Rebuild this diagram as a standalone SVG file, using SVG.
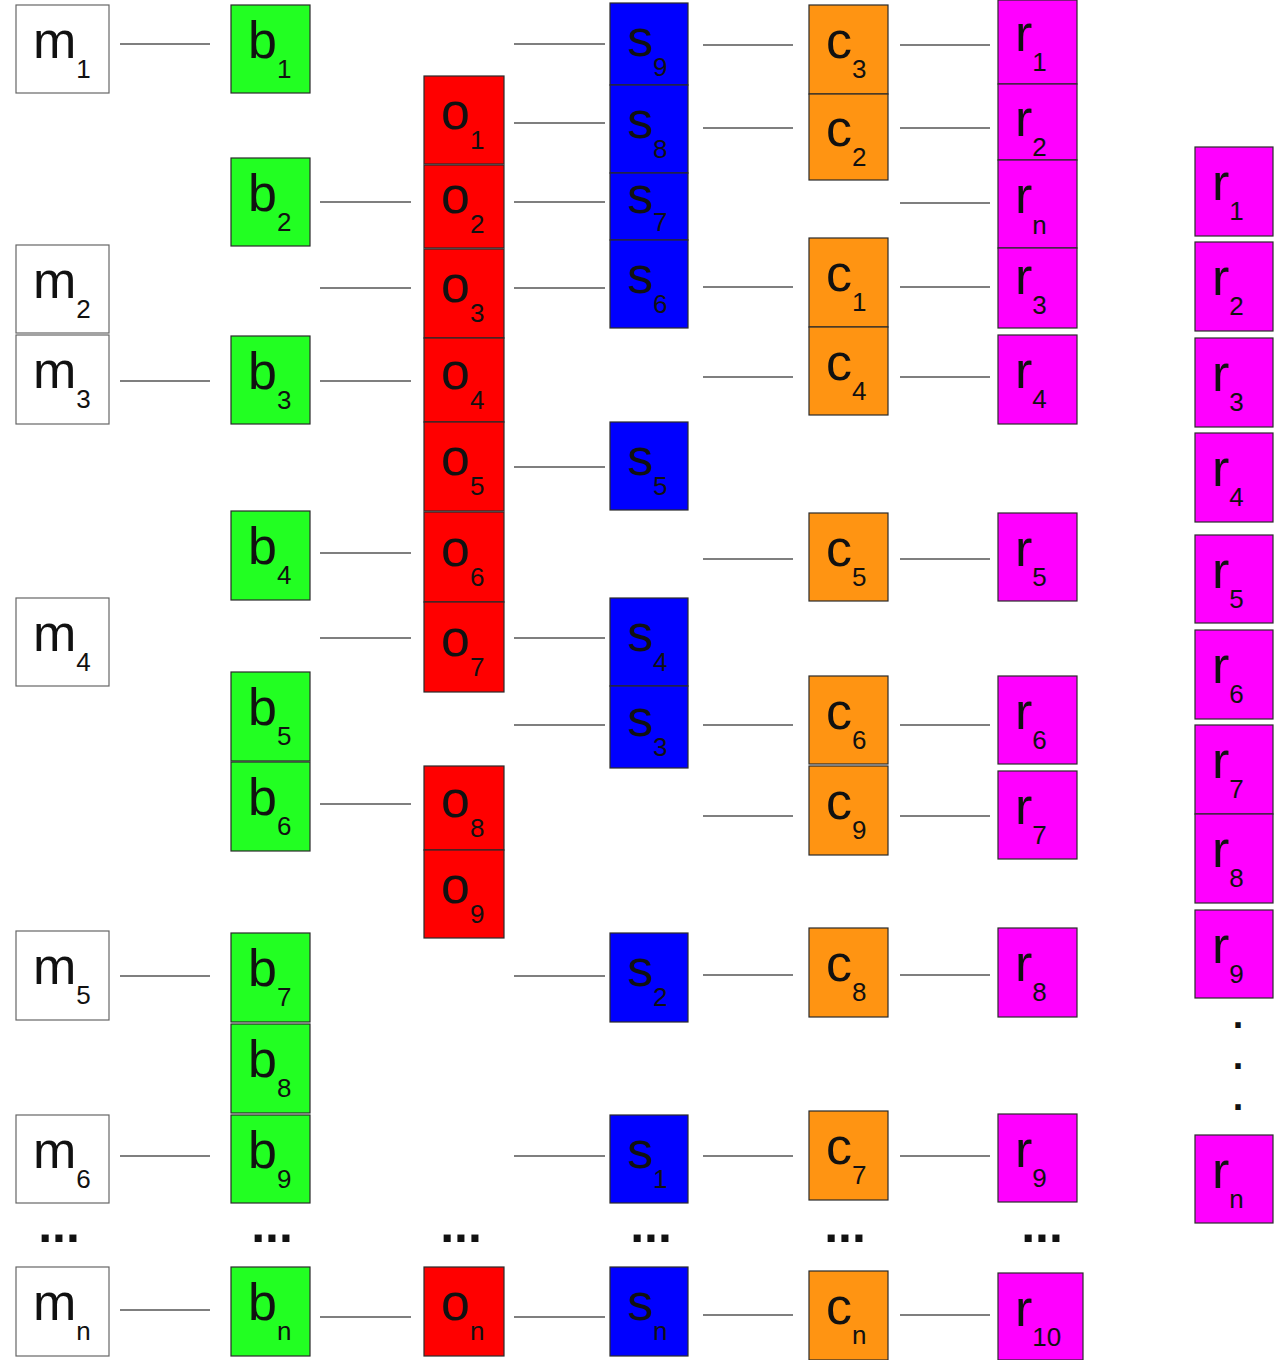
<svg xmlns="http://www.w3.org/2000/svg" width="1277" height="1360" viewBox="0 0 1277 1360">
<style>
.m,.b,.o,.s,.c,.r{stroke:#2a2a2a;stroke-width:1.2}
.m{fill:#ffffff;stroke:#666}
.b{fill:#22ff22}
.o{fill:#ff0000}
.s{fill:#0000ff}
.c{fill:#ff9412}
.r{fill:#ff00ff}
text{font-family:"Liberation Sans",Arial,sans-serif;fill:#111}
.lbl{font-size:52px}
.sub{font-size:26px}
.dots{font-size:50px;font-weight:bold;text-anchor:middle}
.vdot{font-size:38px;font-weight:bold;text-anchor:middle}
#connectors line{stroke:#555;stroke-width:1.3}
</style>
<g id="connectors">
<line x1="120" y1="44" x2="210" y2="44"/>
<line x1="120" y1="381" x2="210" y2="381"/>
<line x1="120" y1="976" x2="210" y2="976"/>
<line x1="120" y1="1156" x2="210" y2="1156"/>
<line x1="120" y1="1310" x2="210" y2="1310"/>
<line x1="320" y1="202" x2="411" y2="202"/>
<line x1="320" y1="288" x2="411" y2="288"/>
<line x1="320" y1="381" x2="411" y2="381"/>
<line x1="320" y1="553" x2="411" y2="553"/>
<line x1="320" y1="638" x2="411" y2="638"/>
<line x1="320" y1="804" x2="411" y2="804"/>
<line x1="320" y1="1317" x2="411" y2="1317"/>
<line x1="514" y1="44" x2="605" y2="44"/>
<line x1="514" y1="123" x2="605" y2="123"/>
<line x1="514" y1="202" x2="605" y2="202"/>
<line x1="514" y1="288" x2="605" y2="288"/>
<line x1="514" y1="467" x2="605" y2="467"/>
<line x1="514" y1="638" x2="605" y2="638"/>
<line x1="514" y1="725" x2="605" y2="725"/>
<line x1="514" y1="976" x2="605" y2="976"/>
<line x1="514" y1="1156" x2="605" y2="1156"/>
<line x1="514" y1="1317" x2="605" y2="1317"/>
<line x1="703" y1="45" x2="793" y2="45"/>
<line x1="703" y1="128" x2="793" y2="128"/>
<line x1="703" y1="287" x2="793" y2="287"/>
<line x1="703" y1="377" x2="793" y2="377"/>
<line x1="703" y1="559" x2="793" y2="559"/>
<line x1="703" y1="725" x2="793" y2="725"/>
<line x1="703" y1="816" x2="793" y2="816"/>
<line x1="703" y1="975" x2="793" y2="975"/>
<line x1="703" y1="1156" x2="793" y2="1156"/>
<line x1="703" y1="1315" x2="793" y2="1315"/>
<line x1="900" y1="45" x2="990" y2="45"/>
<line x1="900" y1="128" x2="990" y2="128"/>
<line x1="900" y1="203" x2="990" y2="203"/>
<line x1="900" y1="287" x2="990" y2="287"/>
<line x1="900" y1="377" x2="990" y2="377"/>
<line x1="900" y1="559" x2="990" y2="559"/>
<line x1="900" y1="725" x2="990" y2="725"/>
<line x1="900" y1="816" x2="990" y2="816"/>
<line x1="900" y1="975" x2="990" y2="975"/>
<line x1="900" y1="1156" x2="990" y2="1156"/>
<line x1="900" y1="1315" x2="990" y2="1315"/>
</g>

<g id="m1"><rect class="m" x="16" y="5" width="93" height="88"/><text class="lbl" x="33" y="58">m<tspan class="sub" dy="20">1</tspan></text></g>
<g id="m2"><rect class="m" x="16" y="245" width="93" height="88"/><text class="lbl" x="33" y="298">m<tspan class="sub" dy="20">2</tspan></text></g>
<g id="m3"><rect class="m" x="16" y="335" width="93" height="89"/><text class="lbl" x="33" y="388">m<tspan class="sub" dy="20">3</tspan></text></g>
<g id="m4"><rect class="m" x="16" y="598" width="93" height="88"/><text class="lbl" x="33" y="651">m<tspan class="sub" dy="20">4</tspan></text></g>
<g id="m5"><rect class="m" x="16" y="931" width="93" height="89"/><text class="lbl" x="33" y="984">m<tspan class="sub" dy="20">5</tspan></text></g>
<g id="m6"><rect class="m" x="16" y="1115" width="93" height="88"/><text class="lbl" x="33" y="1168">m<tspan class="sub" dy="20">6</tspan></text></g>
<g id="mn"><rect class="m" x="16" y="1267" width="93" height="89"/><text class="lbl" x="33" y="1320">m<tspan class="sub" dy="20">n</tspan></text></g>

<g id="b1"><rect class="b" x="231" y="5" width="79" height="88"/><text class="lbl" x="248" y="58">b<tspan class="sub" dy="20">1</tspan></text></g>
<g id="b2"><rect class="b" x="231" y="158" width="79" height="88"/><text class="lbl" x="248" y="211">b<tspan class="sub" dy="20">2</tspan></text></g>
<g id="b3"><rect class="b" x="231" y="336" width="79" height="88"/><text class="lbl" x="248" y="389">b<tspan class="sub" dy="20">3</tspan></text></g>
<g id="b4"><rect class="b" x="231" y="511" width="79" height="89"/><text class="lbl" x="248" y="564">b<tspan class="sub" dy="20">4</tspan></text></g>
<g id="b5"><rect class="b" x="231" y="672" width="79" height="89"/><text class="lbl" x="248" y="725">b<tspan class="sub" dy="20">5</tspan></text></g>
<g id="b6"><rect class="b" x="231" y="762" width="79" height="89"/><text class="lbl" x="248" y="815">b<tspan class="sub" dy="20">6</tspan></text></g>
<g id="b7"><rect class="b" x="231" y="933" width="79" height="89"/><text class="lbl" x="248" y="986">b<tspan class="sub" dy="20">7</tspan></text></g>
<g id="b8"><rect class="b" x="231" y="1024" width="79" height="89"/><text class="lbl" x="248" y="1077">b<tspan class="sub" dy="20">8</tspan></text></g>
<g id="b9"><rect class="b" x="231" y="1115" width="79" height="88"/><text class="lbl" x="248" y="1168">b<tspan class="sub" dy="20">9</tspan></text></g>
<g id="bn"><rect class="b" x="231" y="1267" width="79" height="89"/><text class="lbl" x="248" y="1320">b<tspan class="sub" dy="20">n</tspan></text></g>

<g id="o1"><rect class="o" x="424" y="76" width="80" height="88"/><text class="lbl" x="441" y="129">o<tspan class="sub" dy="20">1</tspan></text></g>
<g id="o2"><rect class="o" x="424" y="165" width="80" height="83"/><text class="lbl" x="441" y="213">o<tspan class="sub" dy="20">2</tspan></text></g>
<g id="o3"><rect class="o" x="424" y="249" width="80" height="89"/><text class="lbl" x="441" y="302">o<tspan class="sub" dy="20">3</tspan></text></g>
<g id="o4"><rect class="o" x="424" y="338" width="80" height="84"/><text class="lbl" x="441" y="389">o<tspan class="sub" dy="20">4</tspan></text></g>
<g id="o5"><rect class="o" x="424" y="422" width="80" height="89"/><text class="lbl" x="441" y="475">o<tspan class="sub" dy="20">5</tspan></text></g>
<g id="o6"><rect class="o" x="424" y="512" width="80" height="90"/><text class="lbl" x="441" y="566">o<tspan class="sub" dy="20">6</tspan></text></g>
<g id="o7"><rect class="o" x="424" y="602" width="80" height="90"/><text class="lbl" x="441" y="656">o<tspan class="sub" dy="20">7</tspan></text></g>
<g id="o8"><rect class="o" x="424" y="766" width="80" height="84"/><text class="lbl" x="441" y="817">o<tspan class="sub" dy="20">8</tspan></text></g>
<g id="o9"><rect class="o" x="424" y="850" width="80" height="88"/><text class="lbl" x="441" y="903">o<tspan class="sub" dy="20">9</tspan></text></g>
<g id="on"><rect class="o" x="424" y="1267" width="80" height="89"/><text class="lbl" x="441" y="1320">o<tspan class="sub" dy="20">n</tspan></text></g>

<g id="s9"><rect class="s" x="610" y="3" width="78" height="82"/><text class="lbl" x="627" y="56">s<tspan class="sub" dy="20">9</tspan></text></g>
<g id="s8"><rect class="s" x="610" y="85" width="78" height="88"/><text class="lbl" x="627" y="138">s<tspan class="sub" dy="20">8</tspan></text></g>
<g id="s7"><rect class="s" x="610" y="173" width="78" height="67"/><text class="lbl" x="627" y="213">s<tspan class="sub" dy="18">7</tspan></text></g>
<g id="s6"><rect class="s" x="610" y="240" width="78" height="88"/><text class="lbl" x="627" y="293">s<tspan class="sub" dy="20">6</tspan></text></g>
<g id="s5"><rect class="s" x="610" y="422" width="78" height="88"/><text class="lbl" x="627" y="475">s<tspan class="sub" dy="20">5</tspan></text></g>
<g id="s4"><rect class="s" x="610" y="598" width="78" height="88"/><text class="lbl" x="627" y="651">s<tspan class="sub" dy="20">4</tspan></text></g>
<g id="s3"><rect class="s" x="610" y="686" width="78" height="82"/><text class="lbl" x="627" y="736">s<tspan class="sub" dy="20">3</tspan></text></g>
<g id="s2"><rect class="s" x="610" y="933" width="78" height="89"/><text class="lbl" x="627" y="986">s<tspan class="sub" dy="20">2</tspan></text></g>
<g id="s1"><rect class="s" x="610" y="1115" width="78" height="88"/><text class="lbl" x="627" y="1168">s<tspan class="sub" dy="20">1</tspan></text></g>
<g id="sn"><rect class="s" x="610" y="1267" width="78" height="89"/><text class="lbl" x="627" y="1320">s<tspan class="sub" dy="20">n</tspan></text></g>

<g id="c3"><rect class="c" x="809" y="5" width="79" height="89"/><text class="lbl" x="826" y="58">c<tspan class="sub" dy="20">3</tspan></text></g>
<g id="c2"><rect class="c" x="809" y="94" width="79" height="86"/><text class="lbl" x="826" y="146">c<tspan class="sub" dy="20">2</tspan></text></g>
<g id="c1"><rect class="c" x="809" y="238" width="79" height="89"/><text class="lbl" x="826" y="291">c<tspan class="sub" dy="20">1</tspan></text></g>
<g id="c4"><rect class="c" x="809" y="327" width="79" height="88"/><text class="lbl" x="826" y="380">c<tspan class="sub" dy="20">4</tspan></text></g>
<g id="c5"><rect class="c" x="809" y="513" width="79" height="88"/><text class="lbl" x="826" y="566">c<tspan class="sub" dy="20">5</tspan></text></g>
<g id="c6"><rect class="c" x="809" y="676" width="79" height="88"/><text class="lbl" x="826" y="729">c<tspan class="sub" dy="20">6</tspan></text></g>
<g id="c9"><rect class="c" x="809" y="766" width="79" height="89"/><text class="lbl" x="826" y="819">c<tspan class="sub" dy="20">9</tspan></text></g>
<g id="c8"><rect class="c" x="809" y="928" width="79" height="89"/><text class="lbl" x="826" y="981">c<tspan class="sub" dy="20">8</tspan></text></g>
<g id="c7"><rect class="c" x="809" y="1111" width="79" height="89"/><text class="lbl" x="826" y="1164">c<tspan class="sub" dy="20">7</tspan></text></g>
<g id="cn"><rect class="c" x="809" y="1271" width="79" height="89"/><text class="lbl" x="826" y="1324">c<tspan class="sub" dy="20">n</tspan></text></g>

<g id="r1"><rect class="r" x="998" y="0" width="79" height="84"/><text class="lbl" x="1015" y="51">r<tspan class="sub" dy="20">1</tspan></text></g>
<g id="r2"><rect class="r" x="998" y="84" width="79" height="76"/><text class="lbl" x="1015" y="136">r<tspan class="sub" dy="20">2</tspan></text></g>
<g id="rn"><rect class="r" x="998" y="160" width="79" height="88"/><text class="lbl" x="1015" y="213">r<tspan class="sub" dy="21">n</tspan></text></g>
<g id="r3"><rect class="r" x="998" y="248" width="79" height="80"/><text class="lbl" x="1015" y="294">r<tspan class="sub" dy="20">3</tspan></text></g>
<g id="r4"><rect class="r" x="998" y="335" width="79" height="89"/><text class="lbl" x="1015" y="388">r<tspan class="sub" dy="20">4</tspan></text></g>
<g id="r5"><rect class="r" x="998" y="513" width="79" height="88"/><text class="lbl" x="1015" y="566">r<tspan class="sub" dy="20">5</tspan></text></g>
<g id="r6"><rect class="r" x="998" y="676" width="79" height="88"/><text class="lbl" x="1015" y="729">r<tspan class="sub" dy="20">6</tspan></text></g>
<g id="r7"><rect class="r" x="998" y="771" width="79" height="88"/><text class="lbl" x="1015" y="824">r<tspan class="sub" dy="20">7</tspan></text></g>
<g id="r8"><rect class="r" x="998" y="928" width="79" height="89"/><text class="lbl" x="1015" y="981">r<tspan class="sub" dy="20">8</tspan></text></g>
<g id="r9"><rect class="r" x="998" y="1114" width="79" height="88"/><text class="lbl" x="1015" y="1167">r<tspan class="sub" dy="20">9</tspan></text></g>
<g id="r10"><rect class="r" x="998" y="1273" width="85" height="87"/><text class="lbl" x="1015" y="1326">r<tspan class="sub" dy="20">10</tspan></text></g>

<g id="R1"><rect class="r" x="1195" y="147" width="78" height="89"/><text class="lbl" x="1212" y="200">r<tspan class="sub" dy="20">1</tspan></text></g>
<g id="R2"><rect class="r" x="1195" y="242" width="78" height="89"/><text class="lbl" x="1212" y="295">r<tspan class="sub" dy="20">2</tspan></text></g>
<g id="R3"><rect class="r" x="1195" y="338" width="78" height="89"/><text class="lbl" x="1212" y="391">r<tspan class="sub" dy="20">3</tspan></text></g>
<g id="R4"><rect class="r" x="1195" y="433" width="78" height="89"/><text class="lbl" x="1212" y="486">r<tspan class="sub" dy="20">4</tspan></text></g>
<g id="R5"><rect class="r" x="1195" y="535" width="78" height="88"/><text class="lbl" x="1212" y="588">r<tspan class="sub" dy="20">5</tspan></text></g>
<g id="R6"><rect class="r" x="1195" y="630" width="78" height="89"/><text class="lbl" x="1212" y="683">r<tspan class="sub" dy="20">6</tspan></text></g>
<g id="R7"><rect class="r" x="1195" y="725" width="78" height="89"/><text class="lbl" x="1212" y="778">r<tspan class="sub" dy="20">7</tspan></text></g>
<g id="R8"><rect class="r" x="1195" y="814" width="78" height="89"/><text class="lbl" x="1212" y="867">r<tspan class="sub" dy="20">8</tspan></text></g>
<g id="R9"><rect class="r" x="1195" y="910" width="78" height="88"/><text class="lbl" x="1212" y="963">r<tspan class="sub" dy="20">9</tspan></text></g>
<g id="Rn"><rect class="r" x="1195" y="1135" width="78" height="88"/><text class="lbl" x="1212" y="1188">r<tspan class="sub" dy="20">n</tspan></text></g>

<g id="ellipses">
<text class="dots" x="59" y="1242">...</text>
<text class="dots" x="272" y="1242">...</text>
<text class="dots" x="461" y="1242">...</text>
<text class="dots" x="651" y="1242">...</text>
<text class="dots" x="845" y="1242">...</text>
<text class="dots" x="1042" y="1242">...</text>
<text class="vdot" x="1238" y="1028">.</text>
<text class="vdot" x="1238" y="1069">.</text>
<text class="vdot" x="1238" y="1110">.</text>
</g>
</svg>
